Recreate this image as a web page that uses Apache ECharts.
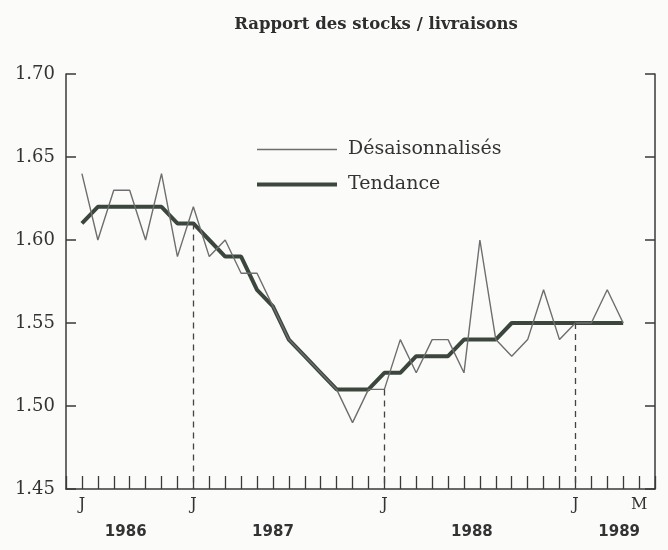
<!DOCTYPE html>
<html>
<head>
<meta charset="utf-8">
<script src="https://cdn.jsdelivr.net/npm/echarts@6/dist/echarts.min.js"></script>
<style>
  html, body { margin: 0; padding: 0; background: #fbfbfa; }
  #chart { width: 668px; height: 550px; }
</style>
</head>
<body>
<div id="chart"></div>
<script>
// month index 0 = juin 1986
var desaison = [1.64, 1.60, 1.63, 1.63, 1.60, 1.64, 1.59, 1.62, 1.59, 1.60,
                1.58, 1.58, 1.56, 1.54, 1.53, 1.52, 1.51, 1.49, 1.51, 1.51,
                1.54, 1.52, 1.54, 1.54, 1.52, 1.60, 1.54, 1.53, 1.54, 1.57,
                1.54, 1.55, 1.55, 1.57, 1.55];
var tendance = [1.61, 1.62, 1.62, 1.62, 1.62, 1.62, 1.61, 1.61, 1.60, 1.59,
                1.59, 1.57, 1.56, 1.54, 1.53, 1.52, 1.51, 1.51, 1.51, 1.52,
                1.52, 1.53, 1.53, 1.53, 1.54, 1.54, 1.54, 1.55, 1.55, 1.55,
                1.55, 1.55, 1.55, 1.55, 1.55];
var monthIdx = [0, 7, 19, 31, 35];
var monthTxt = ['J', 'J', 'J', 'J', 'M'];
var yearPos = [2.75, 12, 24.5, 33.75];
var yearTxt = ['1986', '1987', '1988', '1989'];
var janIdx = [7, 19, 31];   // lignes pointillées
var yTicks = [1.45, 1.50, 1.55, 1.60, 1.65, 1.70];

var serif = 'DejaVu Serif';
var axisCol = '#3a3a3a';
var thinCol = '#6e6e6e', thickCol = '#3b463d';

function pairs(arr) {
  return arr.map(function (v, i) { return [i, v]; });
}

var dashData = janIdx.map(function (i) {
  var top = Math.min(desaison[i], tendance[i]);
  return [{coord: [i, top]}, {coord: [i, yTicks[0]]}];
});

var chart = echarts.init(document.getElementById('chart'));
chart.setOption({
  backgroundColor: '#fbfbfa',
  animation: false,
  title: {
    text: 'Rapport des stocks / livraisons',
    left: 371, top: 11, textAlign: 'center',
    textStyle: {fontFamily: serif, fontWeight: 'bold', fontSize: 16.5, color: '#2e2e2e'}
  },
  legend: {
    orient: 'vertical',
    left: 250, top: 135,
    itemWidth: 80, itemHeight: 14, itemGap: 16,
    itemStyle: {opacity: 0},
    textStyle: {fontFamily: serif, fontSize: 19, color: '#333', padding: [0, 0, 0, 6]},
    data: [
      {name: 'Désaisonnalisés', lineStyle: {width: 1.4, color: thinCol}},
      {name: 'Tendance', lineStyle: {width: 4, color: thickCol}}
    ]
  },
  grid: {left: 66, right: 13, top: 74, bottom: 61},
  xAxis: [
    {
      type: 'value', min: -1, max: 36, interval: 1,
      axisLine: {onZero: false, lineStyle: {color: axisCol, width: 1.5}},
      axisTick: {inside: true, length: 13, lineStyle: {color: axisCol, width: 1.3}},
      splitLine: {show: false},
      axisLabel: {
        margin: 8, fontFamily: serif, fontSize: 16, color: '#333',
        formatter: function (v) {
          var k = monthIdx.indexOf(Math.round(v));
          return k >= 0 && Math.abs(v - Math.round(v)) < 1e-6 ? monthTxt[k] : '';
        }
      }
    },
    {
      type: 'value', min: -1, max: 36, interval: 0.25, position: 'bottom', offset: 28,
      axisLine: {show: false}, axisTick: {show: false}, splitLine: {show: false},
      axisLabel: {
        fontFamily: 'DejaVu Sans', fontWeight: 'bold', fontSize: 15, color: '#333',
        formatter: function (v) {
          for (var k = 0; k < yearPos.length; k++) {
            if (Math.abs(v - yearPos[k]) < 1e-6) return yearTxt[k];
          }
          return '';
        }
      }
    }
  ],
  yAxis: [
    {
      type: 'value', min: 1.45, max: 1.70, interval: 0.05,
      axisLine: {show: true, onZero: false, lineStyle: {color: axisCol, width: 1.5}},
      axisTick: {show: true, inside: true, length: 10, lineStyle: {color: axisCol, width: 1.5}},
      splitLine: {show: false},
      axisLabel: {margin: 11, fontFamily: serif, fontSize: 18, color: '#333',
        formatter: function (v) { return v.toFixed(2); }}
    },
    {
      type: 'value', min: 1.45, max: 1.70, interval: 0.05, position: 'right',
      axisLine: {show: true, onZero: false, lineStyle: {color: axisCol, width: 1.5}},
      axisTick: {show: true, inside: true, length: 10, lineStyle: {color: axisCol, width: 1.5}},
      splitLine: {show: false},
      axisLabel: {show: false}
    }
  ],
  series: [
    {
      name: 'Désaisonnalisés', type: 'line', data: pairs(desaison),
      symbol: 'none', z: 3,
      lineStyle: {color: thinCol, width: 1.4},
      itemStyle: {color: thinCol},
      markLine: {
        silent: true, symbol: 'none', label: {show: false},
        lineStyle: {color: '#444', type: [6, 5], width: 1.3},
        data: dashData
      }
    },
    {
      name: 'Tendance', type: 'line', data: pairs(tendance),
      symbol: 'none', z: 2,
      lineStyle: {color: thickCol, width: 4},
      itemStyle: {color: thickCol}
    }
  ]
});
</script>
</body>
</html>
